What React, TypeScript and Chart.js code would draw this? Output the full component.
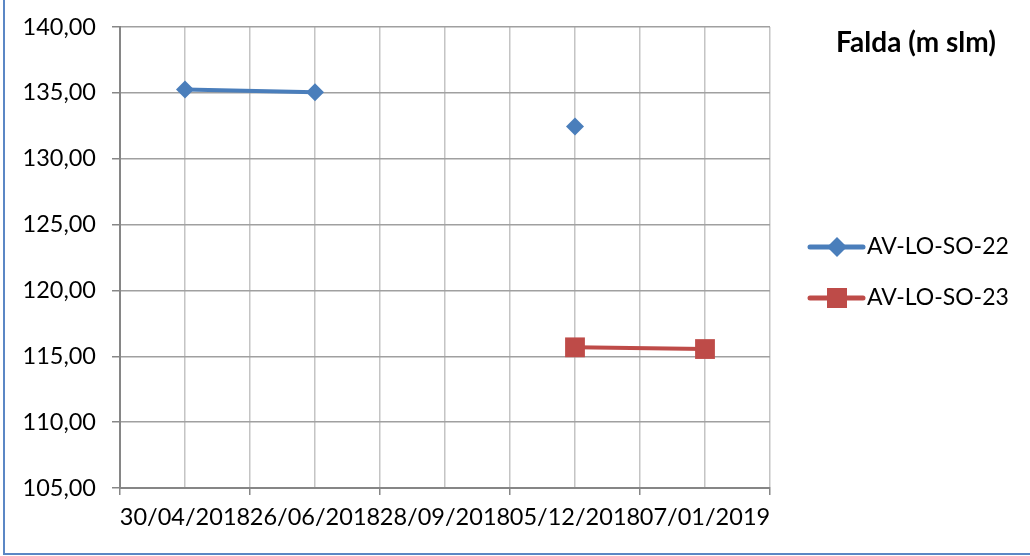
import React, { useEffect, useRef } from 'react';
import { Chart, registerables } from 'chart.js';

Chart.register(...registerables);

const categories = ['30/04/2018', '26/06/2018', '28/09/2018', '05/12/2018', '07/01/2019'];
const seriesNames = ['AV-LO-SO-22', 'AV-LO-SO-23'];
const so22: (number | null)[] = [135.25, 135.05, null, 132.45, null];
const so23: (number | null)[] = [null, null, null, 115.68, 115.55];
const yMin = 105;
const yMax = 140;
const yStep = 5;
const chartTitle = 'Falda (m slm)';

const FONT = 'Lato, "Open Sans", sans-serif';
const BLUE = '#4A7EBB';
const RED = '#BE4B48';
const AXIS = '#868686';

function toPoints(arr: (number | null)[]) {
  return arr.map((v, i) => ({ x: 2 * i + 1, y: v }));
}

function drawMarker(ctx: CanvasRenderingContext2D, kind: string, x: number, y: number, color: string) {
  ctx.save();
  ctx.fillStyle = color;
  ctx.beginPath();
  if (kind === 'diamond') {
    const r = 10;
    ctx.moveTo(x - r, y);
    ctx.lineTo(x, y - r);
    ctx.lineTo(x + r, y);
    ctx.lineTo(x, y + r);
    ctx.closePath();
  } else {
    const s = 10;
    ctx.rect(x - s, y - s, 2 * s, 2 * s);
  }
  ctx.fill();
  ctx.restore();
}

const decorPlugin = {
  id: 'decor',
  afterDraw(chart: any) {
    const ctx: CanvasRenderingContext2D = chart.ctx;
    ctx.save();
    // outer frame (left & bottom visible)
    ctx.fillStyle = '#5B87C5';
    ctx.fillRect(3, 0, 2, 555);
    ctx.fillRect(3, 553, 1027, 2);
    // title
    ctx.fillStyle = '#000';
    ctx.font = `bold 28px ${FONT}`;
    ctx.textAlign = 'center';
    ctx.textBaseline = 'middle';
    ctx.fillText(chartTitle, 916, 43);
    // legend
    const items = [
      { name: seriesNames[0], color: BLUE, kind: 'diamond', y: 247 },
      { name: seriesNames[1], color: RED, kind: 'square', y: 298 },
    ];
    items.forEach((it) => {
      ctx.strokeStyle = it.color;
      ctx.lineWidth = 5;
      ctx.lineCap = 'round';
      ctx.beginPath();
      ctx.moveTo(810, it.y);
      ctx.lineTo(863, it.y);
      ctx.stroke();
      drawMarker(ctx, it.kind, 837, it.y, it.color);
      ctx.fillStyle = '#000';
      ctx.font = `23px ${FONT}`;
      ctx.textAlign = 'left';
      ctx.textBaseline = 'middle';
      ctx.fillText(it.name, 867, it.y);
    });
    ctx.restore();
  },
};

export default function App() {
  const ref = useRef<HTMLCanvasElement | null>(null);
  useEffect(() => {
    if (!ref.current) return;
    const chart = new Chart(ref.current, {
      type: 'line',
      data: {
        datasets: [
          {
            label: seriesNames[0],
            data: toPoints(so22) as any,
            borderColor: BLUE,
            backgroundColor: BLUE,
            borderWidth: 4,
            pointStyle: 'rectRot',
            pointRadius: 9,
            pointBorderWidth: 0,
            spanGaps: false,
          },
          {
            label: seriesNames[1],
            data: toPoints(so23) as any,
            borderColor: RED,
            backgroundColor: RED,
            borderWidth: 4,
            pointStyle: 'rect',
            pointRadius: 14,
            pointBorderWidth: 0,
            spanGaps: false,
          },
        ],
      },
      options: {
        animation: false,
        responsive: false,
        maintainAspectRatio: false,
        layout: { autoPadding: false, padding: { left: 0, right: 260, top: 27, bottom: 28 } },
        plugins: {
          legend: { display: false },
          title: { display: false },
          tooltip: { enabled: false },
        },
        scales: {
          x: {
            type: 'linear',
            min: 0,
            max: categories.length * 2,
            afterFit: (s: any) => {
              s.height = 40;
              s.paddingLeft = 0;
              s.paddingRight = 0;
            },
            afterBuildTicks: (s: any) => {
              const t = [];
              for (let v = 0; v <= categories.length * 2; v++) t.push({ value: v });
              s.ticks = t;
            },
            ticks: {
              autoSkip: false,
              maxRotation: 0,
              minRotation: 0,
              padding: 8,
              color: '#000',
              font: { family: FONT, size: 23.5 },
              callback: (v: any) => {
                const n = Number(v);
                return n % 2 === 1 ? categories[(n - 1) / 2] : '';
              },
            },
            grid: {
              color: '#C4C4C4',
              lineWidth: 1.5,
              tickLength: 7,
              tickColor: (c: any) => (c.tick && c.tick.value % 2 === 0 ? AXIS : 'rgba(0,0,0,0)'),
            },
            border: { color: AXIS, width: 2 },
          },
          y: {
            type: 'linear',
            min: yMin,
            max: yMax,
            afterFit: (s: any) => {
              s.width = 120;
              s.paddingTop = 0;
              s.paddingBottom = 0;
            },
            ticks: {
              stepSize: yStep,
              padding: 16,
              color: '#000',
              font: { family: FONT, size: 23.5 },
              callback: (v: any) => Number(v).toFixed(2).replace('.', ','),
            },
            grid: {
              color: '#A0A0A0',
              lineWidth: 1.5,
              tickLength: 8,
              tickColor: AXIS,
            },
            border: { color: AXIS, width: 2 },
          },
        },
      },
      plugins: [decorPlugin],
    });
    return () => chart.destroy();
  }, []);
  return (
    <div style={{ position: 'absolute', left: 0, top: 0, width: 1030, height: 556, background: '#fff' }}>
      <canvas ref={ref} width={1030} height={556} style={{ width: 1030, height: 556, display: 'block' }} />
    </div>
  );
}
